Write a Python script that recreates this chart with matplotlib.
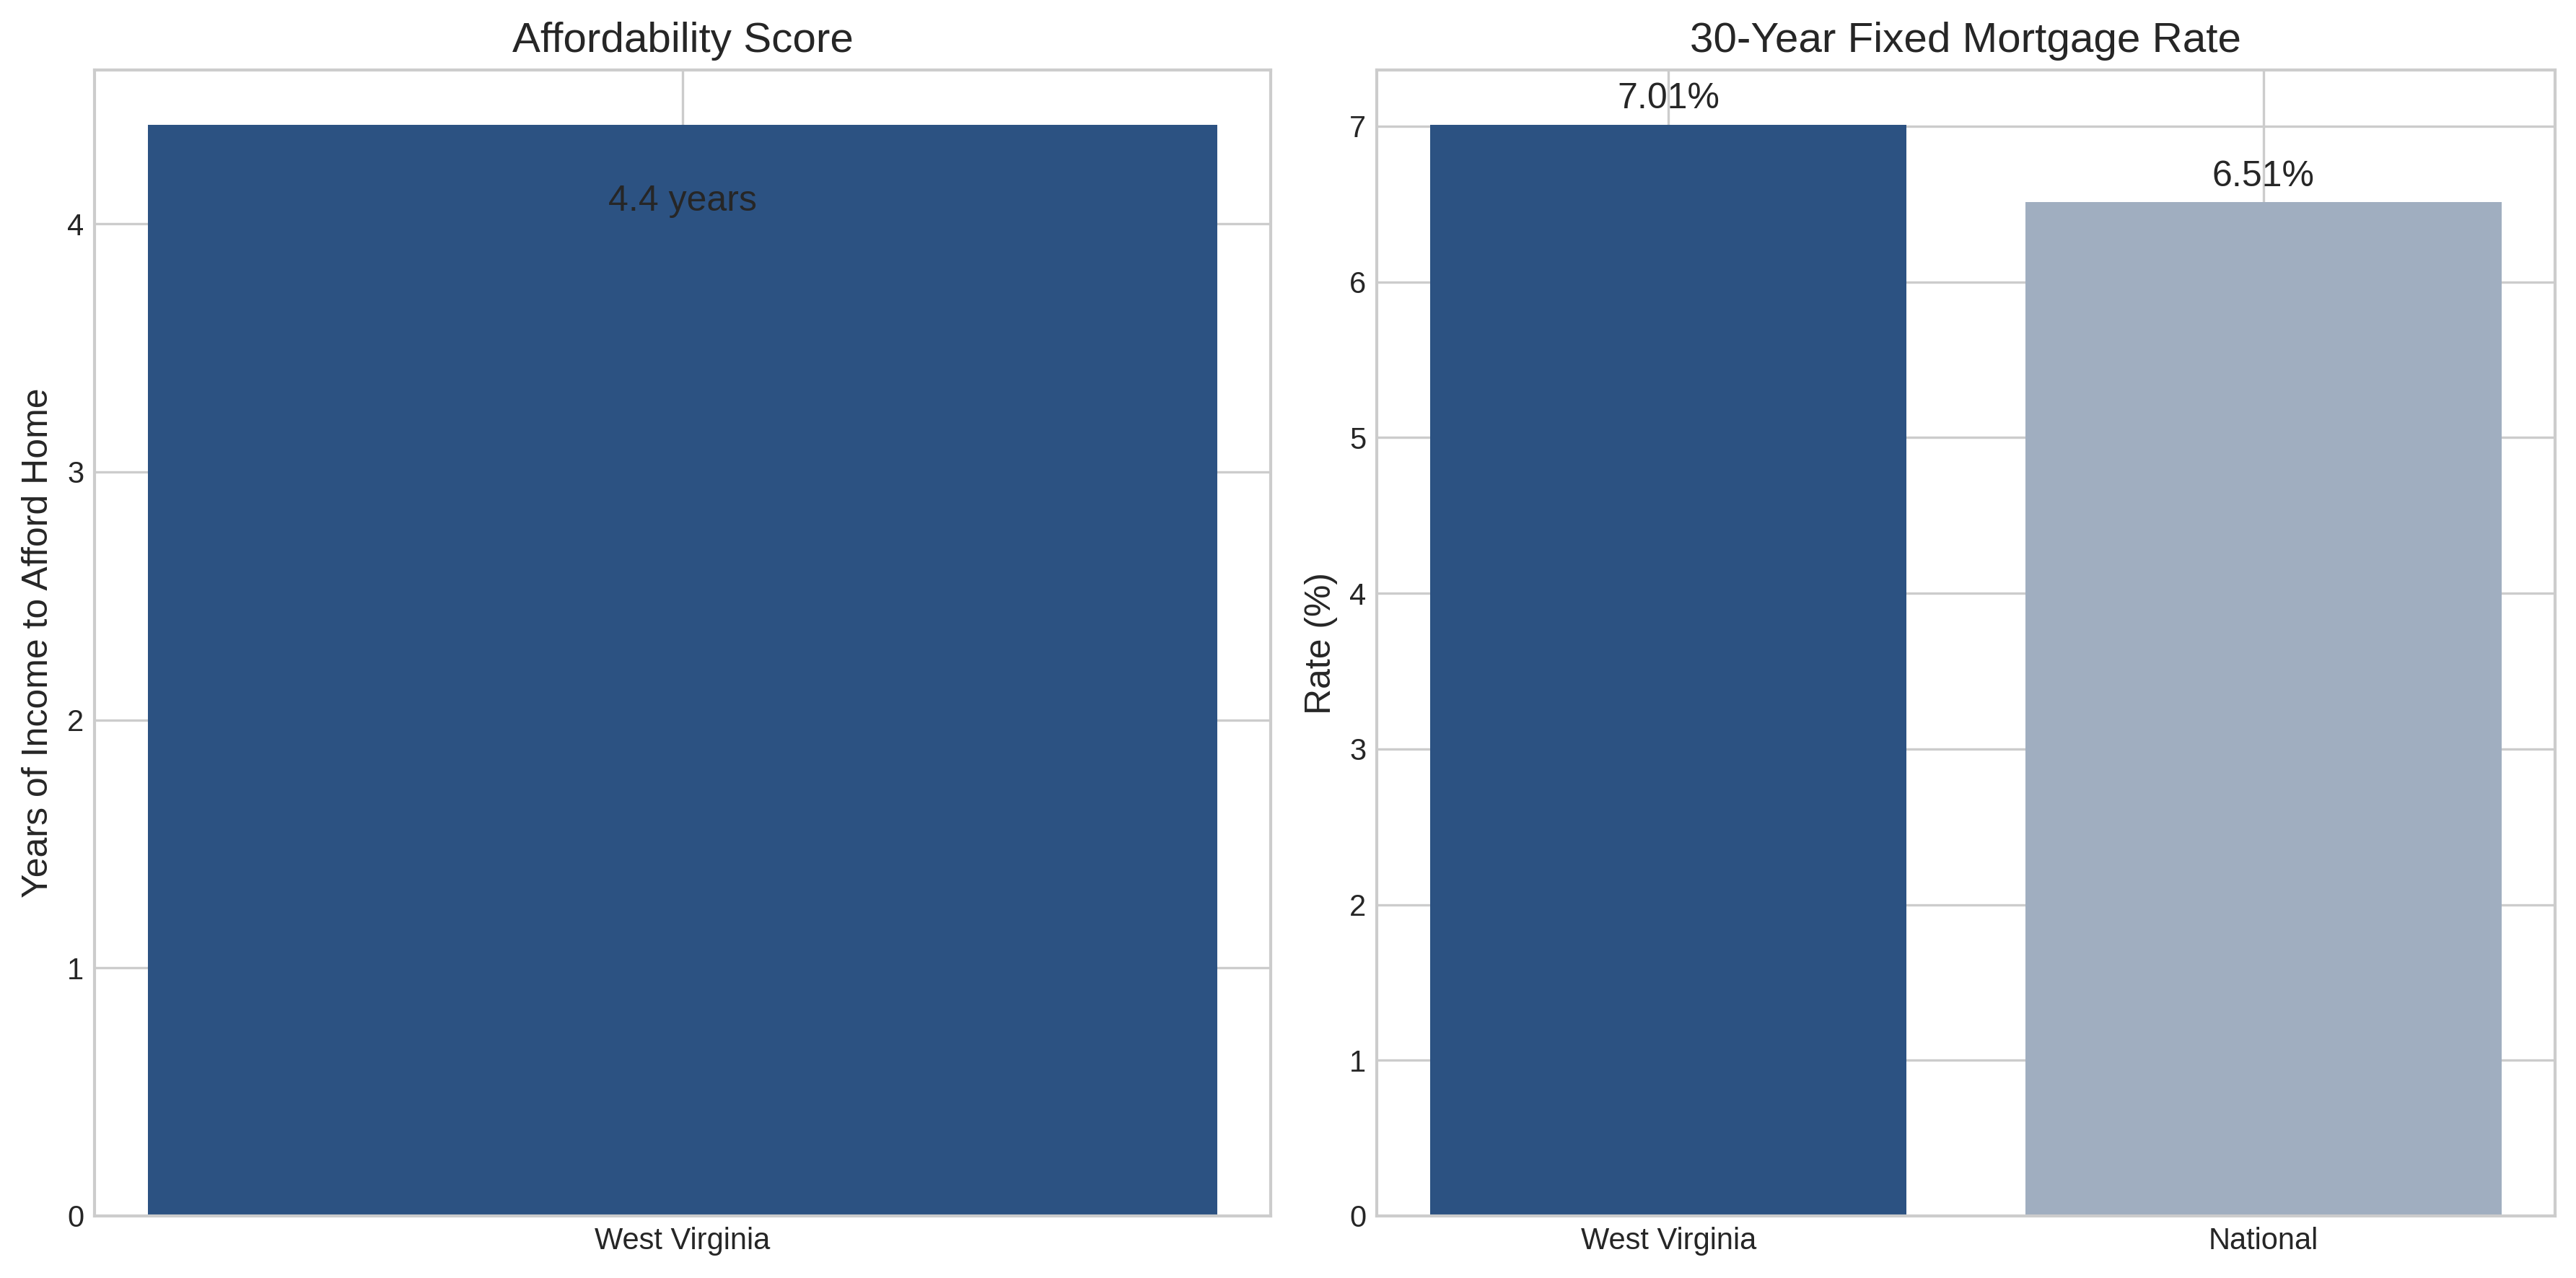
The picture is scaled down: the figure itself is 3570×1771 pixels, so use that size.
import matplotlib
matplotlib.use("Agg")
import matplotlib.pyplot as plt

plt.style.use("seaborn-v0_8-whitegrid")
plt.rcParams['font.family'] = ['Liberation Sans', 'DejaVu Sans']

# Data
afford_categories = ["West Virginia"]
afford_values = [4.4]
rate_categories = ["West Virginia", "National"]
rate_values = [7.01, 6.51]
bar_colors = ["#2c5282", "#a0aec0"]

W, H = 3570, 1771
fig = plt.figure(figsize=(W / 300, H / 300), dpi=300)

def rect(x0, x1, y_top, y_bot):
    return [x0 / W, 1 - y_bot / H, (x1 - x0) / W, (y_bot - y_top) / H]

ax1 = fig.add_axes(rect(131, 1761, 97, 1685))
ax2 = fig.add_axes(rect(1908, 3541, 97, 1685))

# Left: affordability
ax1.bar(afford_categories, afford_values, color=bar_colors[0], width=0.8)
ax1.set_title("Affordability Score", fontsize=14)
ax1.set_ylabel("Years of Income to Afford Home", fontsize=12)
for x, v in zip(afford_categories, afford_values):
    ax1.text(x, v - 0.31, f"{v} years", ha="center", va="center",
             fontsize=12, color="#262626")

# Right: mortgage rates
ax2.bar(rate_categories, rate_values, color=bar_colors, width=0.8)
ax2.set_title("30-Year Fixed Mortgage Rate", fontsize=14)
ax2.set_ylabel("Rate (%)", fontsize=12)
for x, v in zip(rate_categories, rate_values):
    ax2.annotate(f"{v:.2f}%", (x, v), xytext=(0, 3), textcoords="offset points",
                 ha="center", va="bottom", fontsize=12, color="#262626")

for ax in (ax1, ax2):
    ax.tick_params(axis="both", labelsize=10)
    for s in ax.spines.values():
        s.set_visible(True)
        s.set_color("#cccccc")

fig.savefig("out.png", dpi=300)
